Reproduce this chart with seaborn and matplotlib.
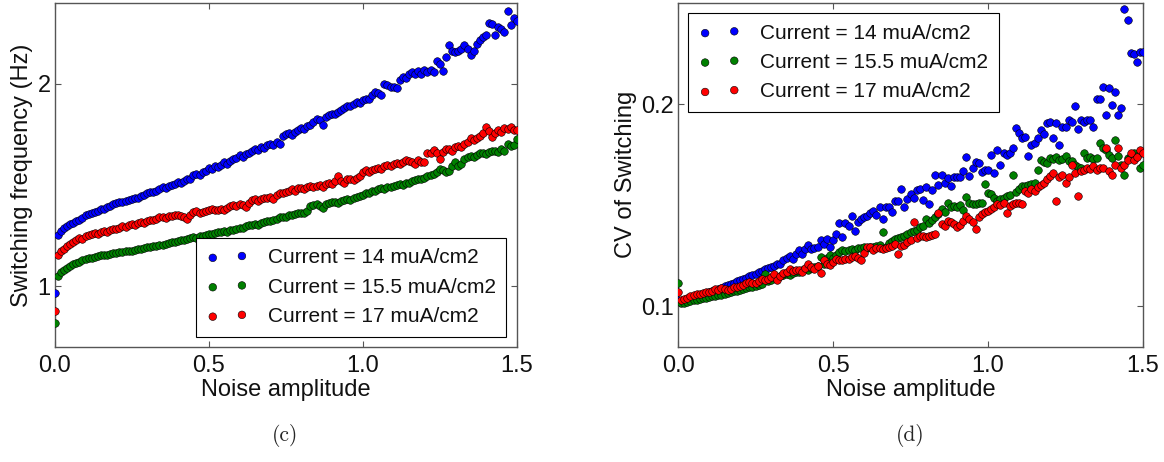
import numpy as np
import pandas as pd
import matplotlib
matplotlib.use("Agg")
import matplotlib.pyplot as plt
import seaborn as sns

# Noise amplitude grid (0.00 .. 1.50 in steps of 0.01)
noise = np.round(np.arange(151) * 0.01, 2)

currents = ["Current = 14 muA/cm2", "Current = 15.5 muA/cm2", "Current = 17 muA/cm2"]
colors = ["#0000ff", "#008000", "#ff0000"]

# Switching frequency (Hz)
freq_14 = [
    0.967, 1.253, 1.272, 1.288, 1.296, 1.305, 1.312, 1.320, 1.328, 1.335,
    1.351, 1.356, 1.360, 1.366, 1.371, 1.379, 1.383, 1.390, 1.396, 1.404,
    1.410, 1.414, 1.416, 1.420, 1.424, 1.431, 1.434, 1.438, 1.445, 1.452,
    1.462, 1.466, 1.463, 1.472, 1.478, 1.488, 1.484, 1.494, 1.500, 1.505,
    1.513, 1.508, 1.520, 1.532, 1.528, 1.548, 1.556, 1.547, 1.562, 1.571,
    1.584, 1.577, 1.592, 1.588, 1.600, 1.612, 1.606, 1.620, 1.628, 1.634,
    1.646, 1.640, 1.652, 1.660, 1.668, 1.680, 1.671, 1.689, 1.684, 1.697,
    1.703, 1.698, 1.712, 1.700, 1.740, 1.752, 1.756, 1.748, 1.764, 1.772,
    1.780, 1.776, 1.790, 1.796, 1.812, 1.828, 1.822, 1.796, 1.835, 1.846,
    1.852, 1.850, 1.862, 1.870, 1.880, 1.892, 1.888, 1.898, 1.910, 1.906,
    1.920, 1.926, 1.924, 1.946, 1.958, 1.952, 1.944, 1.998, 1.992, 1.986,
    1.982, 1.978, 2.020, 2.034, 2.028, 2.048, 2.056, 2.050, 2.064, 2.046,
    2.066, 2.060, 2.070, 2.058, 2.112, 2.098, 2.062, 2.130, 2.190, 2.164,
    2.158, 2.162, 2.170, 2.192, 2.174, 2.142, 2.160, 2.196, 2.214, 2.232,
    2.240, 2.300, 2.296, 2.240, 2.280, 2.272, 2.254, 2.360, 2.290, 2.326,
    2.312,
]
freq_15_5 = [
    0.820, 1.052, 1.068, 1.080, 1.092, 1.100, 1.108, 1.116, 1.122, 1.128,
    1.134, 1.138, 1.140, 1.144, 1.148, 1.152, 1.154, 1.156, 1.160, 1.162,
    1.166, 1.168, 1.170, 1.172, 1.174, 1.176, 1.180, 1.184, 1.186, 1.190,
    1.194, 1.196, 1.198, 1.200, 1.202, 1.206, 1.210, 1.212, 1.216, 1.218,
    1.224, 1.226, 1.228, 1.232, 1.238, 1.242, 1.240, 1.246, 1.250, 1.254,
    1.256, 1.260, 1.262, 1.266, 1.268, 1.272, 1.270, 1.276, 1.280, 1.284,
    1.286, 1.290, 1.296, 1.300, 1.304, 1.306, 1.302, 1.310, 1.316, 1.320,
    1.324, 1.328, 1.332, 1.340, 1.344, 1.342, 1.350, 1.352, 1.356, 1.360,
    1.364, 1.362, 1.370, 1.398, 1.400, 1.404, 1.396, 1.386, 1.408, 1.412,
    1.418, 1.414, 1.410, 1.420, 1.426, 1.430, 1.428, 1.436, 1.440, 1.446,
    1.452, 1.458, 1.462, 1.470, 1.472, 1.480, 1.484, 1.482, 1.490, 1.492,
    1.496, 1.500, 1.504, 1.498, 1.508, 1.510, 1.518, 1.524, 1.530, 1.528,
    1.536, 1.542, 1.548, 1.554, 1.562, 1.578, 1.572, 1.566, 1.570, 1.596,
    1.612, 1.594, 1.602, 1.626, 1.640, 1.644, 1.638, 1.650, 1.656, 1.660,
    1.652, 1.664, 1.666, 1.670, 1.664, 1.676, 1.670, 1.704, 1.692, 1.696,
    1.726,
]
freq_17 = [
    0.877, 1.155, 1.172, 1.186, 1.198, 1.208, 1.216, 1.226, 1.236, 1.234,
    1.248, 1.252, 1.256, 1.262, 1.258, 1.268, 1.274, 1.270, 1.280, 1.284,
    1.282, 1.290, 1.296, 1.292, 1.300, 1.306, 1.302, 1.312, 1.318, 1.314,
    1.322, 1.328, 1.326, 1.334, 1.340, 1.344, 1.338, 1.346, 1.348, 1.350,
    1.352, 1.348, 1.344, 1.330, 1.352, 1.366, 1.372, 1.362, 1.368, 1.374,
    1.376, 1.380, 1.378, 1.376, 1.382, 1.378, 1.386, 1.398, 1.402, 1.396,
    1.404, 1.400, 1.392, 1.412, 1.424, 1.430, 1.420, 1.432, 1.438, 1.436,
    1.440, 1.432, 1.452, 1.462, 1.458, 1.466, 1.470, 1.480, 1.468, 1.484,
    1.486, 1.478, 1.490, 1.496, 1.488, 1.494, 1.500, 1.492, 1.504, 1.510,
    1.506, 1.518, 1.544, 1.520, 1.512, 1.528, 1.532, 1.526, 1.536, 1.542,
    1.566, 1.572, 1.562, 1.574, 1.580, 1.586, 1.578, 1.592, 1.598, 1.594,
    1.604, 1.610, 1.606, 1.616, 1.622, 1.618, 1.612, 1.606, 1.622, 1.614,
    1.612, 1.660, 1.656, 1.672, 1.660, 1.628, 1.664, 1.680, 1.676, 1.670,
    1.686, 1.692, 1.688, 1.702, 1.712, 1.734, 1.722, 1.730, 1.742, 1.758,
    1.784, 1.766, 1.736, 1.756, 1.770, 1.764, 1.782, 1.778, 1.784, 1.772,
    1.772,
]

# Coefficient of variation of the switching intervals
cv_14 = [
    0.1030, 0.1025, 0.1030, 0.1035, 0.1040, 0.1045, 0.1050, 0.1050, 0.1055, 0.1060,
    0.1070, 0.1075, 0.1080, 0.1088, 0.1092, 0.1100, 0.1106, 0.1110, 0.1118, 0.1125,
    0.1130, 0.1138, 0.1142, 0.1150, 0.1155, 0.1160, 0.1170, 0.1175, 0.1185, 0.1190,
    0.1195, 0.1200, 0.1212, 0.1210, 0.1231, 0.1240, 0.1248, 0.1235, 0.1260, 0.1277,
    0.1260, 0.1285, 0.1306, 0.1285, 0.1290, 0.1293, 0.1329, 0.1310, 0.1334, 0.1293,
    0.1330, 0.1358, 0.1410, 0.1345, 0.1410, 0.1395, 0.1448, 0.1375, 0.1415, 0.1432,
    0.1440, 0.1448, 0.1461, 0.1472, 0.1450, 0.1489, 0.1432, 0.1489, 0.1489, 0.1469,
    0.1521, 0.1521, 0.1578, 0.1489, 0.1530, 0.1554, 0.1537, 0.1573, 0.1581, 0.1524,
    0.1590, 0.1505, 0.1573, 0.1651, 0.1600, 0.1648, 0.1611, 0.1635, 0.1594, 0.1638,
    0.1638, 0.1638, 0.1671, 0.1736, 0.1643, 0.1684, 0.1712, 0.1708, 0.1664, 0.1676,
    0.1676, 0.1749, 0.1660, 0.1774, 0.1700, 0.1757, 0.1749, 0.1757, 0.1782, 0.1880,
    0.1855, 0.1831, 0.1839, 0.1741, 0.1798, 0.1806, 0.1831, 0.1871, 0.1850, 0.1904,
    0.1912, 0.1831, 0.1904, 0.1798, 0.1888, 0.1888, 0.1920, 0.1912, 0.1990, 0.1879,
    0.1920, 0.1912, 0.1920, 0.1920, 0.1888, 0.2026, 0.2023, 0.2083, 0.1948, 0.2078,
    0.1993, 0.2059, 0.1945, 0.1980, 0.2469, 0.2414, 0.2251, 0.2246, 0.2205, 0.2257,
    0.2257,
]
cv_15_5 = [
    0.1114, 0.1015, 0.1018, 0.1022, 0.1026, 0.1030, 0.1034, 0.1036, 0.1040, 0.1044,
    0.1046, 0.1050, 0.1054, 0.1058, 0.1056, 0.1062, 0.1066, 0.1070, 0.1074, 0.1078,
    0.1082, 0.1086, 0.1090, 0.1094, 0.1098, 0.1102, 0.1106, 0.1112, 0.1160, 0.1125,
    0.1130, 0.1147, 0.1140, 0.1150, 0.1155, 0.1158, 0.1155, 0.1165, 0.1168, 0.1172,
    0.1178, 0.1187, 0.1180, 0.1192, 0.1195, 0.1200, 0.1244, 0.1210, 0.1238, 0.1252,
    0.1240, 0.1255, 0.1270, 0.1280, 0.1276, 0.1278, 0.1282, 0.1280, 0.1288, 0.1290,
    0.1292, 0.1290, 0.1296, 0.1293, 0.1300, 0.1305, 0.1366, 0.1293, 0.1313, 0.1322,
    0.1334, 0.1339, 0.1344, 0.1350, 0.1356, 0.1366, 0.1375, 0.1380, 0.1394, 0.1399,
    0.1432, 0.1410, 0.1425, 0.1440, 0.1455, 0.1480, 0.1469, 0.1513, 0.1491, 0.1495,
    0.1489, 0.1500, 0.1476, 0.1541, 0.1513, 0.1508, 0.1505, 0.1510, 0.1513, 0.1603,
    0.1562, 0.1554, 0.1535, 0.1521, 0.1530, 0.1537, 0.1545, 0.1552, 0.1651, 0.1567,
    0.1580, 0.1594, 0.1594, 0.1600, 0.1605, 0.1611, 0.1676, 0.1725, 0.1712, 0.1708,
    0.1733, 0.1728, 0.1736, 0.1725, 0.1730, 0.1741, 0.1717, 0.1717, 0.1700, 0.1690,
    0.1684, 0.1757, 0.1733, 0.1736, 0.1728, 0.1733, 0.1806, 0.1782, 0.1774, 0.1750,
    0.1733, 0.1822, 0.1741, 0.1700, 0.1648, 0.1733, 0.1745, 0.1757, 0.1741, 0.1684,
    0.1700,
]
cv_17 = [
    0.1073, 0.1030, 0.1036, 0.1041, 0.1050, 0.1057, 0.1062, 0.1060, 0.1068, 0.1073,
    0.1070, 0.1078, 0.1085, 0.1080, 0.1090, 0.1086, 0.1081, 0.1088, 0.1094, 0.1096,
    0.1101, 0.1108, 0.1117, 0.1122, 0.1118, 0.1114, 0.1126, 0.1138, 0.1132, 0.1138,
    0.1145, 0.1160, 0.1130, 0.1150, 0.1163, 0.1172, 0.1187, 0.1176, 0.1180, 0.1179,
    0.1171, 0.1190, 0.1212, 0.1195, 0.1187, 0.1200, 0.1166, 0.1228, 0.1210, 0.1204,
    0.1220, 0.1236, 0.1228, 0.1231, 0.1234, 0.1236, 0.1244, 0.1248, 0.1240, 0.1228,
    0.1265, 0.1293, 0.1293, 0.1280, 0.1290, 0.1288, 0.1285, 0.1290, 0.1293, 0.1301,
    0.1309, 0.1260, 0.1300, 0.1305, 0.1318, 0.1326, 0.1415, 0.1340, 0.1350, 0.1350,
    0.1342, 0.1348, 0.1353, 0.1360, 0.1464, 0.1407, 0.1399, 0.1423, 0.1415, 0.1405,
    0.1391, 0.1404, 0.1420, 0.1448, 0.1430, 0.1419, 0.1383, 0.1440, 0.1459, 0.1465,
    0.1472, 0.1480, 0.1490, 0.1505, 0.1500, 0.1513, 0.1461, 0.1497, 0.1505, 0.1513,
    0.1510, 0.1508, 0.1570, 0.1560, 0.1578, 0.1570, 0.1590, 0.1600, 0.1611, 0.1630,
    0.1643, 0.1660, 0.1521, 0.1640, 0.1651, 0.1611, 0.1640, 0.1700, 0.1660, 0.1546,
    0.1668, 0.1676, 0.1684, 0.1680, 0.1692, 0.1676, 0.1684, 0.1684, 0.1782, 0.1670,
    0.1651, 0.1700, 0.1782, 0.1684, 0.1700, 0.1725, 0.1757, 0.1725, 0.1740, 0.1774,
    0.1760,
]

x_ticks = [0.0, 0.5, 1.0, 1.5]
x_ticklabels = ["0.0", "0.5", "1.0", "1.5"]
freq_ticks = [1, 2]
cv_ticks = [0.1, 0.2]

sns.set_style("white")
plt.rcParams["font.family"] = ["Liberation Sans", "DejaVu Sans"]

fig = plt.figure(figsize=(11.64, 4.62), dpi=100)
ax_f = fig.add_axes([0.047, 0.249, 0.397, 0.745])
ax_cv = fig.add_axes([0.5825, 0.249, 0.3995, 0.745])


def draw(ax, series, loc, ylabel, ylim, yticks):
    for vals, lab, col in zip(series, currents, colors):
        df = pd.DataFrame({"noise": noise, "value": vals})
        sns.scatterplot(data=df, x="noise", y="value", color=col, s=30,
                        edgecolor="black", linewidth=0.4, label=lab, ax=ax,
                        zorder=3)
    ax.set_xlim(0, 1.5)
    ax.set_ylim(*ylim)
    ax.set_xticks(x_ticks)
    ax.set_xticklabels(x_ticklabels)
    ax.set_yticks(yticks)
    ax.set_yticklabels([f"{t:g}" for t in yticks])
    ax.tick_params(axis="both", which="both", direction="in", length=4,
                   width=0.8, color="#555555", labelsize=17,
                   labelcolor="#111111",
                   top=True, right=True, bottom=True, left=True)
    ax.tick_params(axis="x", pad=6)
    ax.tick_params(axis="y", pad=3)
    for sp in ax.spines.values():
        sp.set_color("#555555")
        sp.set_linewidth(1.0)
    ax.set_xlabel("Noise amplitude", fontsize=17, labelpad=1, color="#111111")
    ax.set_ylabel(ylabel, fontsize=17, labelpad=3, color="#111111")
    leg = ax.legend(loc=loc, scatterpoints=2, fancybox=False, frameon=True,
                    framealpha=1, edgecolor="black", fontsize=15,
                    handlelength=2.0, handletextpad=0.95, borderpad=0.5,
                    labelspacing=0.5, borderaxespad=0.5)
    leg.get_frame().set_linewidth(0.8)
    for t in leg.get_texts():
        t.set_color("#111111")


draw(ax_f, [freq_14, freq_15_5, freq_17], "lower right",
     "Switching frequency (Hz)", (0.7, 2.4), freq_ticks)
draw(ax_cv, [cv_14, cv_15_5, cv_17], "upper left",
     "CV of Switching", (0.08, 0.25), cv_ticks)

fig.text(0.245, 0.058, "(c)", ha="center", va="center", fontsize=15.5,
         family=["cmr10", "DejaVu Serif"])
fig.text(0.782, 0.058, "(d)", ha="center", va="center", fontsize=15.5,
         family=["cmr10", "DejaVu Serif"])

fig.savefig("out.png", dpi=100)
